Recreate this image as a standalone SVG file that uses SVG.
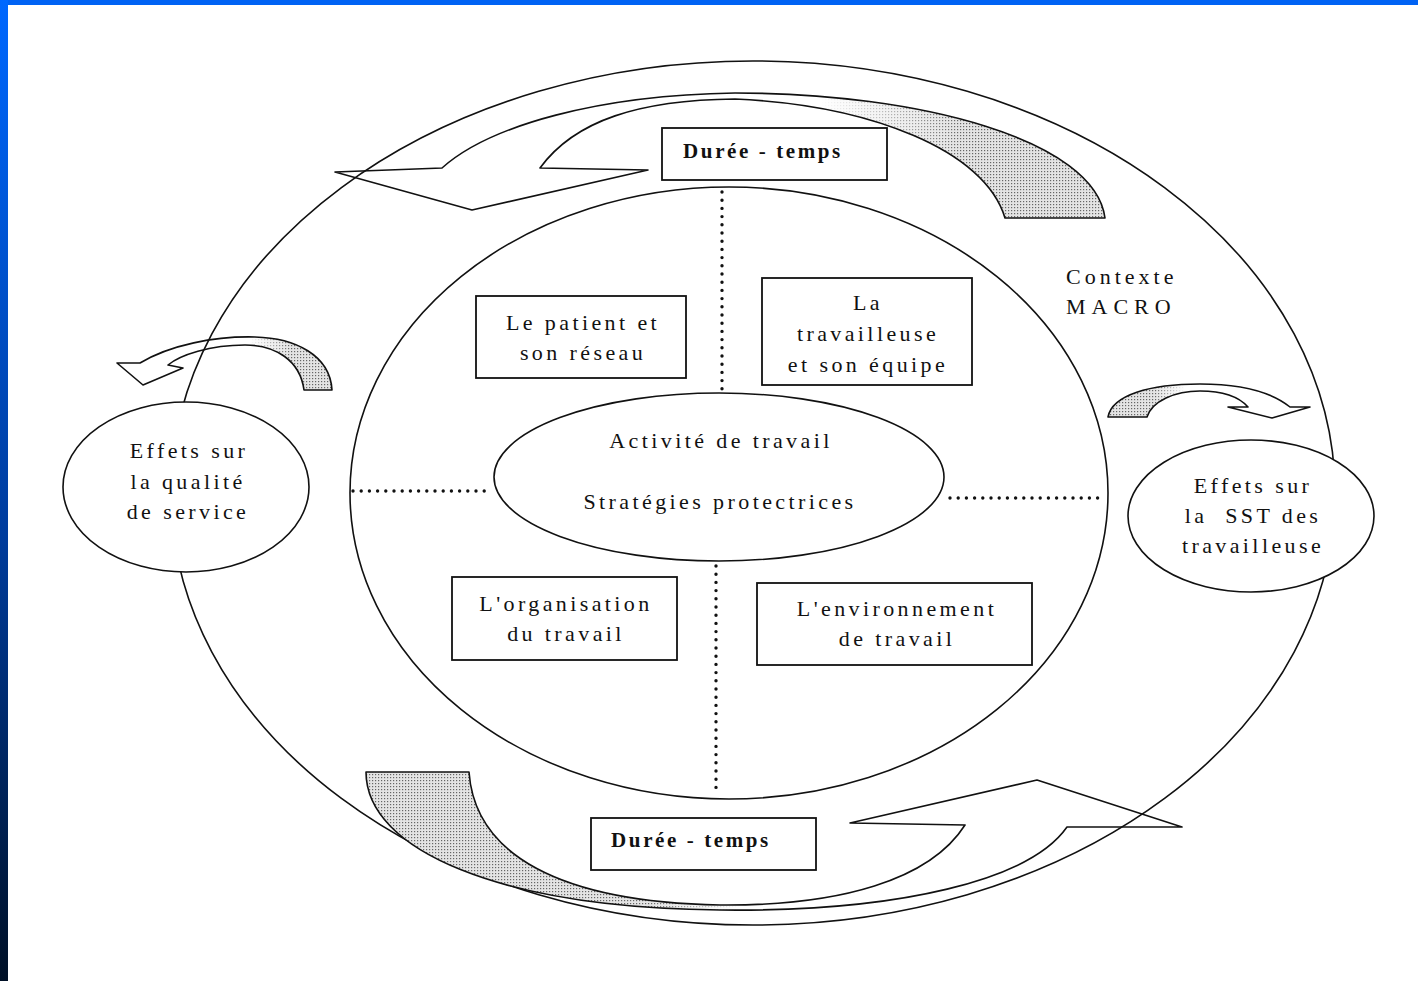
<svg xmlns="http://www.w3.org/2000/svg" width="1418" height="981" viewBox="0 0 1418 981">
<defs>
<style>
.ln{fill:none;stroke:#111;stroke-width:1.6}
.wf{fill:#fff;stroke:#111;stroke-width:1.6}
.box{fill:#fff;stroke:#111;stroke-width:1.8}
.dot{fill:none;stroke:#111;stroke-width:3.4;stroke-linecap:round;stroke-dasharray:0 8.2}
.t{font-family:"Liberation Serif","Times New Roman",serif;font-size:22px;letter-spacing:3.4px;fill:#111;text-anchor:middle}
.b{font-family:"Liberation Serif","Times New Roman",serif;font-size:21px;font-weight:bold;letter-spacing:2.6px;fill:#111;text-anchor:middle}
.arr{fill:none;stroke:#111;stroke-width:1.6;stroke-linejoin:round}
</style>
<linearGradient id="side" x1="0" y1="0" x2="0" y2="1">
<stop offset="0" stop-color="#0068ff"/>
<stop offset="0.55" stop-color="#003c9c"/>
<stop offset="1" stop-color="#001026"/>
</linearGradient>
<pattern id="stip" width="3" height="3" patternUnits="userSpaceOnUse">
<rect width="3" height="3" fill="#e4e4e4"/>
<rect width="1.2" height="1.2" fill="#666"/>
</pattern>
<linearGradient id="gTop" gradientUnits="userSpaceOnUse" x1="820" y1="0" x2="960" y2="0">
<stop offset="0" stop-color="#000"/><stop offset="1" stop-color="#fff"/>
</linearGradient>
<linearGradient id="gBot" gradientUnits="userSpaceOnUse" x1="650" y1="0" x2="740" y2="0">
<stop offset="0" stop-color="#fff"/><stop offset="1" stop-color="#000"/>
</linearGradient>
<linearGradient id="gLeft" gradientUnits="userSpaceOnUse" x1="250" y1="0" x2="290" y2="0">
<stop offset="0" stop-color="#000"/><stop offset="1" stop-color="#fff"/>
</linearGradient>
<linearGradient id="gRight" gradientUnits="userSpaceOnUse" x1="1155" y1="0" x2="1185" y2="0">
<stop offset="0" stop-color="#fff"/><stop offset="1" stop-color="#000"/>
</linearGradient>
<mask id="mTop"><rect width="1418" height="981" fill="url(#gTop)"/></mask>
<mask id="mBot"><rect width="1418" height="981" fill="url(#gBot)"/></mask>
<mask id="mLeft"><rect width="1418" height="981" fill="url(#gLeft)"/></mask>
<mask id="mRight"><rect width="1418" height="981" fill="url(#gRight)"/></mask>
</defs>

<g id="frame">
<rect x="0" y="0" width="1418" height="981" fill="#fff"/>
<rect x="0" y="0" width="1418" height="5" fill="#0063f4"/>
<rect x="0" y="0" width="8" height="981" fill="url(#side)"/>
</g>

<g id="contexte-macro">
<ellipse class="ln" cx="753" cy="493" rx="582" ry="432"/>
<text class="t" style="text-anchor:start;letter-spacing:4px" x="1066" y="284">Contexte</text>
<text class="t" style="text-anchor:start;letter-spacing:6px" x="1066" y="314">MACRO</text>
</g>

<g id="arrows">
<path d="M335,172 L442,168 C490,125 600,95 735,93 C920,93 1095,140 1105,218 L1005,218 C985,150 870,105 735,99 C640,100 575,120 540,168 L648,170 L472,210 Z" fill="url(#stip)" mask="url(#mTop)"/>
<path class="arr" d="M335,172 L442,168 C490,125 600,95 735,93 C920,93 1095,140 1105,218 L1005,218 C985,150 870,105 735,99 C640,100 575,120 540,168 L648,170 L472,210 Z"/>
<path d="M1182,827 L1067,827 C1030,880 900,912 720,910 C500,908 366,850 366,772 L469,772 C475,855 560,902 720,905 C840,906 930,880 965,825 L850,823 L1037,780 Z" fill="url(#stip)" mask="url(#mBot)"/>
<path class="arr" d="M1182,827 L1067,827 C1030,880 900,912 720,910 C500,908 366,850 366,772 L469,772 C475,855 560,902 720,905 C840,906 930,880 965,825 L850,823 L1037,780 Z"/>
<path d="M117,363 L140,363 C170,345 215,336 255,337 C295,338 330,355 332,390 L304,390 C300,360 275,345 245,345 C210,345 180,355 168,365 L183,368 L143,385 Z" fill="url(#stip)" mask="url(#mLeft)"/>
<path class="arr" d="M117,363 L140,363 C170,345 215,336 255,337 C295,338 330,355 332,390 L304,390 C300,360 275,345 245,345 C210,345 180,355 168,365 L183,368 L143,385 Z"/>
<path d="M1310,407 L1290,407 C1270,391 1240,384 1200,384 C1150,384 1112,395 1108,417 L1147,417 C1152,401 1175,391 1200,391 C1225,391 1240,398 1248,407 L1228,407 L1272,418 Z" fill="url(#stip)" mask="url(#mRight)"/>
<path class="arr" d="M1310,407 L1290,407 C1270,391 1240,384 1200,384 C1150,384 1112,395 1108,417 L1147,417 C1152,401 1175,391 1200,391 C1225,391 1240,398 1248,407 L1228,407 L1272,418 Z"/>
</g>

<g id="contexte-interne">
<ellipse class="ln" cx="729" cy="493" rx="379" ry="306"/>
</g>

<g id="connectors">
<line class="dot" x1="722" y1="192" x2="722" y2="390"/>
<line class="dot" x1="716" y1="566" x2="716" y2="795"/>
<line class="dot" x1="353" y1="491" x2="490" y2="491"/>
<line class="dot" x1="950" y1="498" x2="1104" y2="498"/>
</g>

<g id="duree-haut">
<rect class="box" x="662" y="128" width="225" height="52"/>
<text class="b" x="763" y="158">Durée - temps</text>
</g>

<g id="duree-bas">
<rect class="box" x="591" y="818" width="225" height="52"/>
<text class="b" x="691" y="847">Durée - temps</text>
</g>

<g id="patient">
<rect class="box" x="476" y="296" width="210" height="82"/>
<text class="t" x="583" y="330">Le patient et</text>
<text class="t" x="583" y="360">son réseau</text>
</g>

<g id="travailleuse">
<rect class="box" x="762" y="278" width="210" height="107"/>
<text class="t" x="868" y="310">La</text>
<text class="t" x="868" y="341">travailleuse</text>
<text class="t" x="868" y="372">et son équipe</text>
</g>

<g id="activite">
<ellipse class="wf" cx="719" cy="477" rx="225" ry="84"/>
<text class="t" x="721" y="448">Activité de travail</text>
<text class="t" x="720" y="509">Stratégies protectrices</text>
</g>

<g id="organisation">
<rect class="box" x="452" y="577" width="225" height="83"/>
<text class="t" x="566" y="611">L'organisation</text>
<text class="t" x="566" y="641">du travail</text>
</g>

<g id="environnement">
<rect class="box" x="757" y="583" width="275" height="82"/>
<text class="t" x="897" y="616">L'environnement</text>
<text class="t" x="897" y="646">de travail</text>
</g>

<g id="effets-qualite">
<ellipse class="wf" cx="186" cy="487" rx="123" ry="85"/>
<text class="t" x="189" y="458">Effets sur</text>
<text class="t" x="188" y="489">la qualité</text>
<text class="t" x="188" y="519">de service</text>
</g>

<g id="effets-sst">
<ellipse class="wf" cx="1251" cy="516" rx="123" ry="76"/>
<text class="t" x="1253" y="493">Effets sur</text>
<text class="t" x="1253" y="523" xml:space="preserve">la  SST des</text>
<text class="t" x="1253" y="553">travailleuse</text>
</g>
</svg>
